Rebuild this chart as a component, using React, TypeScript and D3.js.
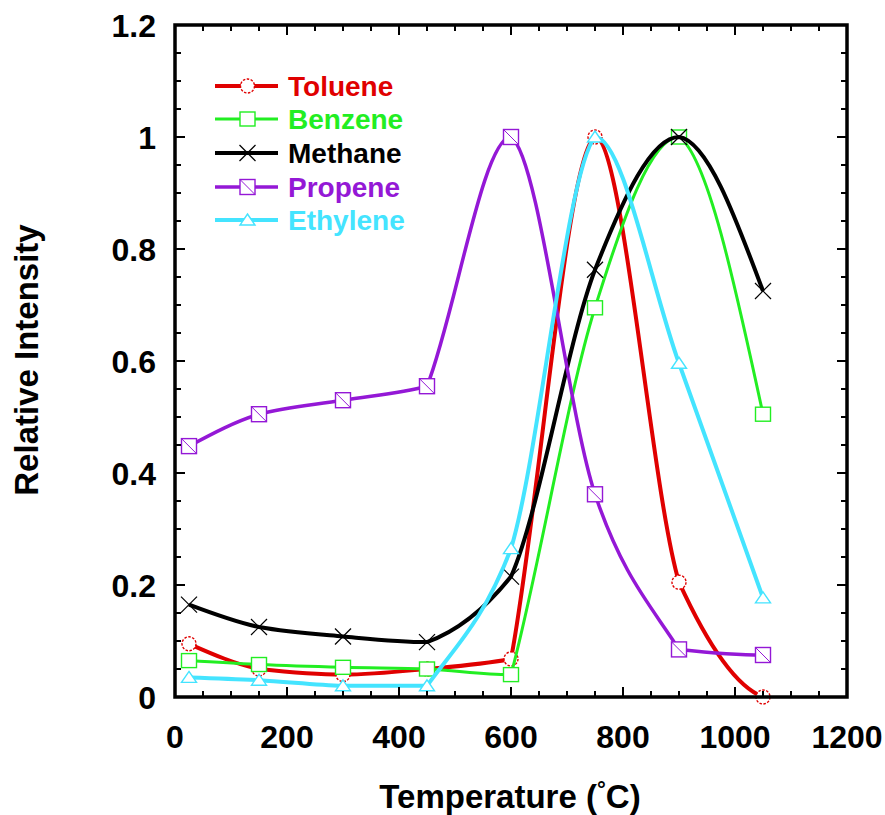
import React from "react";
import * as d3 from "d3";

// Temperatures (°C) at which each species was measured
const temperatures = [25, 150, 300, 450, 600, 750, 900, 1050];

// Relative intensities per species
const toluene = [0.095, 0.05, 0.04, 0.05, 0.068, 1.0, 0.205, 0.0];
const benzene = [0.065, 0.058, 0.053, 0.05, 0.04, 0.695, 1.0, 0.505];
const methane = [0.165, 0.125, 0.108, 0.098, 0.215, 0.763, 1.0, 0.725];
const propene = [0.448, 0.505, 0.53, 0.555, 1.0, 0.362, 0.085, 0.075];
const ethylene = [0.035, 0.03, 0.02, 0.02, 0.265, 1.0, 0.596, 0.177];

const seriesNames = ["Toluene", "Benzene", "Methane", "Propene", "Ethylene"];
const seriesValues = [toluene, benzene, methane, propene, ethylene];
const seriesColors = ["#e00000", "#22ee22", "#000000", "#9418d6", "#44e4ff"];
const seriesWidths = [4, 3, 4, 3.5, 4];
const seriesMarkers = ["circle", "square", "cross", "slashSquare", "triangle"];

const xTicks = [0, 200, 400, 600, 800, 1000, 1200];
const yTicks = [0, 0.2, 0.4, 0.6, 0.8, 1, 1.2];
const yTickLabels = ["0", "0.2", "0.4", "0.6", "0.8", "1", "1.2"];

const W = 885;
const H = 815;
const FONT = "'Liberation Sans', Arial, Helvetica, sans-serif";

// Piecewise cubic Hermite curve: each segment picks its own end tangents,
// clamped against its chord, so a flat run can meet a steep one at a corner
// while peaks stay rounded.
function curveSegmentSpline(context: any) {
  let xs: number[] = [];
  let ys: number[] = [];
  const limit = (t: number, d: number, k: number) => {
    if (d === 0 || t * d <= 0) return 0;
    const m = k * Math.abs(d);
    return Math.sign(t) * Math.min(Math.abs(t), m);
  };
  // tangent at point i for the segment with chord `d`, whose other side has chord `o`
  const sideTangent = (t: number, d: number, o: number | undefined) => {
    const base = limit(t, d, 1.6);
    if (o !== undefined && Math.abs(d) > 1.2 && Math.abs(o) < 0.15 * Math.abs(d)) {
      return Math.sign(d) * Math.max(Math.abs(base), 0.85 * Math.abs(d));
    }
    return base;
  };
  return {
    areaStart() {},
    areaEnd() {},
    lineStart() {
      xs = [];
      ys = [];
    },
    point(x: number, y: number) {
      xs.push(+x);
      ys.push(+y);
    },
    lineEnd() {
      const n = xs.length;
      if (!n) return;
      context.moveTo(xs[0], ys[0]);
      if (n === 1) return;
      const d: number[] = [];
      for (let i = 0; i < n - 1; i++) d.push((ys[i + 1] - ys[i]) / (xs[i + 1] - xs[i]));
      const t: number[] = new Array(n);
      for (let i = 1; i < n - 1; i++) t[i] = (ys[i + 1] - ys[i - 1]) / (xs[i + 1] - xs[i - 1]);
      t[0] = n > 2 ? (3 * d[0] - t[1]) / 2 : d[0];
      t[n - 1] = n > 2 ? (3 * d[n - 2] - t[n - 2]) / 2 : d[n - 2];
      for (let i = 0; i < n - 1; i++) {
        const h = xs[i + 1] - xs[i];
        const a = sideTangent(t[i], d[i], i > 0 ? d[i - 1] : undefined);
        const b = sideTangent(t[i + 1], d[i], i + 1 < n - 1 ? d[i + 1] : undefined);
        context.bezierCurveTo(
          xs[i] + h / 3,
          ys[i] + (a * h) / 3,
          xs[i + 1] - h / 3,
          ys[i + 1] - (b * h) / 3,
          xs[i + 1],
          ys[i + 1]
        );
      }
    },
  };
}

function Marker({ kind, cx, cy, color }: { kind: string; cx: number; cy: number; color: string }) {
  const sw = 1.4;
  if (kind === "circle") {
    return <circle cx={cx} cy={cy} r={7} fill="#fff" stroke={color} strokeWidth={sw} strokeDasharray="2.5,1.5" />;
  }
  if (kind === "square") {
    return <rect x={cx - 7.5} y={cy - 7} width={15} height={14} fill="#fff" stroke={color} strokeWidth={sw} />;
  }
  if (kind === "slashSquare") {
    return (
      <g>
        <rect x={cx - 7.5} y={cy - 7.5} width={15} height={15} fill="#fff" stroke={color} strokeWidth={sw} />
        <line x1={cx - 7.5} y1={cy - 7.5} x2={cx + 7.5} y2={cy + 7.5} stroke={color} strokeWidth={1} />
      </g>
    );
  }
  if (kind === "cross") {
    const s = 8;
    return (
      <g stroke={color} strokeWidth={1.2}>
        <line x1={cx - s} y1={cy - s} x2={cx + s} y2={cy + s} />
        <line x1={cx - s} y1={cy + s} x2={cx + s} y2={cy - s} />
      </g>
    );
  }
  // triangle
  return (
    <path
      d={`M${cx},${cy - 6} L${cx + 7.5},${cy + 5} L${cx - 7.5},${cy + 5} Z`}
      fill="#fff"
      stroke={color}
      strokeWidth={sw}
    />
  );
}

export default function App() {
  const x = d3.scaleLinear().domain([0, 1200]).range([175, 847]);
  const y = d3.scaleLinear().domain([0, 1.2]).range([697, 25]);

  const line = d3
    .line<[number, number]>()
    .x((d) => x(d[0]))
    .y((d) => y(d[1]))
    .curve(curveSegmentSpline as any);

  const minorX = d3.range(0, 1201, 50);
  const minorY = d3.range(0, 1.2001, 0.05);

  const [x0, x1] = x.range();
  const [y0, y1] = y.range();

  const legendX0 = 215;
  const legendX1 = 278;
  const legendTextX = 288;
  const legendY = [86, 119, 153, 187, 220];

  return (
    <svg
      width={W}
      height={H}
      style={{ position: "absolute", left: 0, top: 0, background: "#fff" }}
      fontFamily={FONT}
    >
      <rect x={0} y={0} width={W} height={H} fill="#fff" />

      {/* series curves and markers */}
      {seriesValues.map((vals, i) => {
        const pts = temperatures.map((t, j) => [t, vals[j]] as [number, number]);
        return (
          <g key={seriesNames[i]}>
            <path
              d={line(pts) || ""}
              fill="none"
              stroke={seriesColors[i]}
              strokeWidth={seriesWidths[i]}
              strokeLinejoin="round"
            />
            {pts.map((p, j) => (
              <Marker key={j} kind={seriesMarkers[i]} cx={x(p[0])} cy={y(p[1])} color={seriesColors[i]} />
            ))}
          </g>
        );
      })}

      {/* ticks on all four sides, pointing inward */}
      <g stroke="#000" strokeWidth={2}>
        {minorX.map((v) => {
          const major = Math.abs(v % 200) < 1e-6;
          const len = major ? 10 : 6;
          return (
            <g key={"x" + v}>
              <line x1={x(v)} x2={x(v)} y1={y0} y2={y0 - len} />
              <line x1={x(v)} x2={x(v)} y1={y1} y2={y1 + len} />
            </g>
          );
        })}
        {minorY.map((v, k) => {
          const major = k % 4 === 0;
          const len = major ? 10 : 6;
          return (
            <g key={"y" + k}>
              <line x1={x0} x2={x0 + len} y1={y(v)} y2={y(v)} />
              <line x1={x1} x2={x1 - len} y1={y(v)} y2={y(v)} />
            </g>
          );
        })}
      </g>

      {/* plot frame */}
      <rect x={x0} y={y1} width={x1 - x0} height={y0 - y1} fill="none" stroke="#000" strokeWidth={3.5} />

      {/* tick labels */}
      <g fontSize={32} fontWeight="bold" fill="#000">
        {xTicks.map((v) => (
          <text key={v} x={x(v)} y={748} textAnchor="middle">
            {v}
          </text>
        ))}
        {yTicks.map((v, k) => (
          <text key={v} x={156} y={y(v) + 11.5} textAnchor="end">
            {yTickLabels[k]}
          </text>
        ))}
      </g>

      {/* axis titles */}
      <text x={510} y={808} textAnchor="middle" fontSize={33} fontWeight="bold" fill="#000">
        Temperature (<tspan fontSize={22} dy={-11}>°</tspan>
        <tspan dy={11}>C)</tspan>
      </text>
      <text
        transform={`translate(38,360) rotate(-90)`}
        textAnchor="middle"
        fontSize={33}
        fontWeight="bold"
        fill="#000"
      >
        Relative Intensity
      </text>

      {/* legend */}
      {seriesNames.map((name, i) => {
        const ly = legendY[i];
        return (
          <g key={name}>
            <line x1={legendX0} x2={legendX1} y1={ly} y2={ly} stroke={seriesColors[i]} strokeWidth={seriesWidths[i]} />
            <Marker kind={seriesMarkers[i]} cx={(legendX0 + legendX1) / 2 + 1} cy={ly} color={seriesColors[i]} />
            <text x={legendTextX} y={ly + 10} fontSize={28} fontWeight="bold" fill={seriesColors[i]}>
              {name}
            </text>
          </g>
        );
      })}
    </svg>
  );
}
